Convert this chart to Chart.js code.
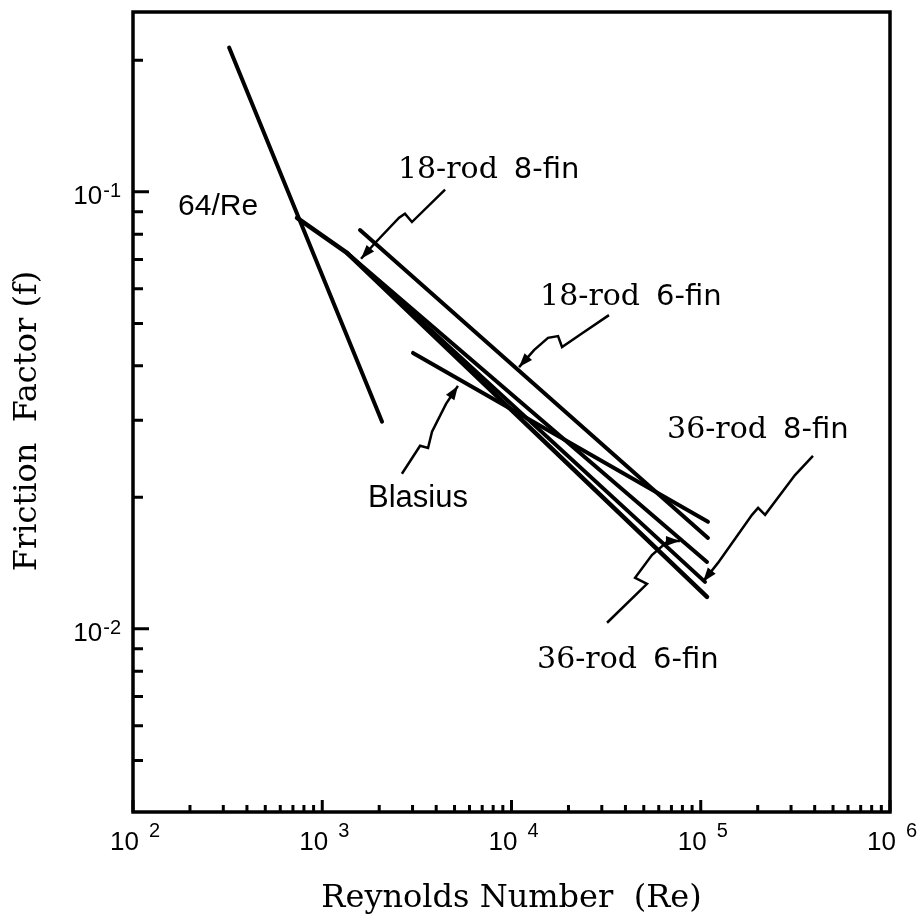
<!DOCTYPE html>
<html>
<head>
<meta charset="utf-8">
<script src="https://cdn.jsdelivr.net/npm/chart.js@4.4.1/dist/chart.umd.min.js"></script>
<style>
  html, body { margin: 0; background: #fff; }
  #wrap { width: 924px; height: 917px; }
</style>
</head>
<body>
<div id="wrap"><canvas id="frictionChart"></canvas></div>
<script>
// Reynolds number / friction factor pairs
const laminarRe = [322, 2070];
const laminarF = [0.214, 0.0298];

const rod18fin6Re = [1583, 109200];
const rod18fin6F = [0.0818, 0.01615];

const rod18fin8Re = [1351, 107900];
const rod18fin8F = [0.0725, 0.01423];

const rod36fin8Re = [1351, 105300];
const rod36fin8F = [0.0725, 0.01281];

const rod36fin6Re = [736, 1351, 107900];
const rod36fin6F = [0.0872, 0.0725, 0.01183];

const blasiusRe = [3017, 109200];
const blasiusF = [0.0428, 0.01758];

// axis ticks
const xDecades = [1e2, 1e3, 1e4, 1e5, 1e6];
const xExponents = ['2', '3', '4', '5', '6'];
const yDecades = [0.1, 0.01];
const yExponents = ['-1', '-2'];
const yMinor = [0.2, 0.09, 0.08, 0.07, 0.06, 0.05, 0.04, 0.03, 0.02,
                0.009, 0.008, 0.007, 0.006, 0.005];

// labels: text parts and anchor as [log10 Re, log10 f] (left, baseline)
const notes = [
  { parts: ['64/Re'], at: [2.238, -1.053], sans: true },
  { parts: ['Blasius'], at: [3.242, -1.721], sans: true },
  { parts: ['18-rod', '8-fin'], at: [3.400, -0.968] },
  { parts: ['18-rod', '6-fin'], at: [4.151, -1.259] },
  { parts: ['36-rod', '8-fin'], at: [4.822, -1.563] },
  { parts: ['36-rod', '6-fin'], at: [4.135, -2.089] }
];

// leader lines (squiggle + arrow), points as [log10 Re, log10 f]
const leaders = [
  [[3.649, -0.995], [3.474, -1.069], [3.437, -1.050], [3.406, -1.059], [3.279, -1.117], [3.205, -1.153]],
  [[4.515, -1.282], [4.362, -1.327], [4.267, -1.355], [4.246, -1.330], [4.193, -1.334], [4.119, -1.362], [4.040, -1.401]],
  [[3.421, -1.645], [3.517, -1.581], [3.559, -1.586], [3.580, -1.549], [3.654, -1.485], [3.717, -1.444]],
  [[5.593, -1.604], [5.498, -1.648], [5.340, -1.739], [5.303, -1.723], [5.271, -1.739], [5.091, -1.849], [5.012, -1.892]],
  [[4.505, -1.986], [4.716, -1.897], [4.653, -1.883], [4.742, -1.831], [4.827, -1.799], [4.890, -1.799]]
];

function pairs(xs, ys) {
  return xs.map((v, i) => ({ x: v, y: ys[i] }));
}

function lineSet(label, xs, ys, width) {
  return {
    label: label,
    data: pairs(xs, ys),
    showLine: true,
    borderColor: '#000',
    borderWidth: width || 4,
    pointRadius: 0,
    borderCapStyle: 'round',
    borderJoinStyle: 'round'
  };
}

const paperPlugin = {
  id: 'paper',
  afterDatasetsDraw(chart) {
    const { ctx, chartArea: a, scales: { x, y } } = chart;
    const px = v => x.getPixelForValue(v);
    const py = v => y.getPixelForValue(v);
    const tickFont = '26px "Liberation Sans", Arial, sans-serif';
    const expFont = '20px "Liberation Sans", Arial, sans-serif';
    ctx.save();
    ctx.strokeStyle = '#000';
    ctx.fillStyle = '#000';

    // frame
    ctx.lineWidth = 3.5;
    ctx.strokeRect(a.left, a.top, a.right - a.left, a.bottom - a.top);

    // ticks, pointing inward
    ctx.lineWidth = 3;
    ctx.beginPath();
    xDecades.forEach((d, i) => {
      ctx.moveTo(px(d), a.bottom);
      ctx.lineTo(px(d), a.bottom - 12);
      if (i < xDecades.length - 1) {
        for (let k = 2; k <= 9; k++) {
          ctx.moveTo(px(d * k), a.bottom);
          ctx.lineTo(px(d * k), a.bottom - 7);
        }
      }
    });
    yDecades.forEach(v => {
      ctx.moveTo(a.left, py(v));
      ctx.lineTo(a.left + 16, py(v));
    });
    yMinor.forEach(v => {
      ctx.moveTo(a.left, py(v));
      ctx.lineTo(a.left + 10, py(v));
    });
    ctx.stroke();

    // x tick labels: 10 with raised exponent
    ctx.textBaseline = 'alphabetic';
    ctx.textAlign = 'left';
    xDecades.forEach((d, i) => {
      ctx.font = tickFont;
      const w10 = ctx.measureText('10').width;
      ctx.font = expFont;
      const wExp = ctx.measureText(xExponents[i]).width;
      const total = w10 + 10 + wExp;
      const left = px(d) - total / 2 + 2;
      ctx.font = tickFont;
      ctx.fillText('10', left, a.bottom + 38);
      ctx.font = expFont;
      ctx.fillText(xExponents[i], left + w10 + 10, a.bottom + 25);
    });

    // y tick labels
    yDecades.forEach((v, i) => {
      const yy = py(v);
      ctx.font = expFont;
      ctx.textAlign = 'right';
      ctx.fillText(yExponents[i], a.left - 12, yy + 5);
      const wExp = ctx.measureText(yExponents[i]).width;
      ctx.font = tickFont;
      ctx.fillText('10', a.left - 13 - wExp, yy + 12);
    });

    // axis titles
    ctx.textAlign = 'center';
    ctx.font = '32px "DejaVu Serif", serif';
    ctx.fillText('Reynolds Number  (Re)', (a.left + a.right) / 2, a.bottom + 95);
    ctx.save();
    ctx.translate(36, 421);
    ctx.rotate(-Math.PI / 2);
    ctx.fillText('Friction  Factor (f)', 0, 0);
    ctx.restore();

    // leaders with arrowheads
    ctx.lineWidth = 2.5;
    ctx.lineJoin = 'miter';
    leaders.forEach(path => {
      const pts = path.map(p => [px(Math.pow(10, p[0])), py(Math.pow(10, p[1]))]);
      ctx.beginPath();
      pts.forEach((p, i) => (i ? ctx.lineTo(p[0], p[1]) : ctx.moveTo(p[0], p[1])));
      ctx.stroke();
      const tip = pts[pts.length - 1];
      const prev = pts[pts.length - 2];
      const ang = Math.atan2(tip[1] - prev[1], tip[0] - prev[0]);
      ctx.beginPath();
      ctx.moveTo(tip[0], tip[1]);
      ctx.lineTo(tip[0] - 14 * Math.cos(ang) + 5 * Math.sin(ang), tip[1] - 14 * Math.sin(ang) - 5 * Math.cos(ang));
      ctx.lineTo(tip[0] - 14 * Math.cos(ang) - 5 * Math.sin(ang), tip[1] - 14 * Math.sin(ang) + 5 * Math.cos(ang));
      ctx.closePath();
      ctx.fill();
    });

    // curve labels
    ctx.textAlign = 'left';
    notes.forEach(n => {
      let cx = px(Math.pow(10, n.at[0]));
      const cy = py(Math.pow(10, n.at[1]));
      if (n.sans) {
        ctx.font = n.parts[0] === 'Blasius' ? '31px "Liberation Sans", Arial, sans-serif'
                                            : '30px "Liberation Sans", Arial, sans-serif';
        ctx.fillText(n.parts[0], cx, cy);
        return;
      }
      ctx.font = '30px "DejaVu Serif", serif';
      ctx.fillText(n.parts[0], cx, cy);
      cx += ctx.measureText(n.parts[0]).width + 16;
      ctx.font = '29px "DejaVu Sans", sans-serif';
      ctx.fillText(n.parts[1], cx, cy);
    });
    ctx.restore();
  }
};

const ctx = document.getElementById('frictionChart').getContext('2d');
const frictionChart = new Chart(ctx, {
  type: 'scatter',
  data: {
    datasets: [
      lineSet('64/Re', laminarRe, laminarF),
      lineSet('18-rod 6-fin', rod18fin6Re, rod18fin6F),
      lineSet('18-rod 8-fin', rod18fin8Re, rod18fin8F),
      lineSet('36-rod 8-fin', rod36fin8Re, rod36fin8F),
      lineSet('36-rod 6-fin', rod36fin6Re, rod36fin6F, 4.5),
      lineSet('Blasius', blasiusRe, blasiusF)
    ]
  },
  options: {
    responsive: true,
    maintainAspectRatio: false,
    animation: false,
    layout: { padding: { left: 133, right: 34, top: 12, bottom: 105 } },
    plugins: {
      legend: { display: false },
      tooltip: { enabled: false }
    },
    scales: {
      x: {
        type: 'logarithmic',
        min: 100,
        max: 1e6,
        ticks: { display: false },
        grid: { display: false, drawTicks: false },
        border: { display: false }
      },
      y: {
        type: 'logarithmic',
        min: 0.00381,
        max: 0.258,
        ticks: { display: false },
        grid: { display: false, drawTicks: false },
        border: { display: false }
      }
    }
  },
  plugins: [paperPlugin]
});
</script>
</body>
</html>
